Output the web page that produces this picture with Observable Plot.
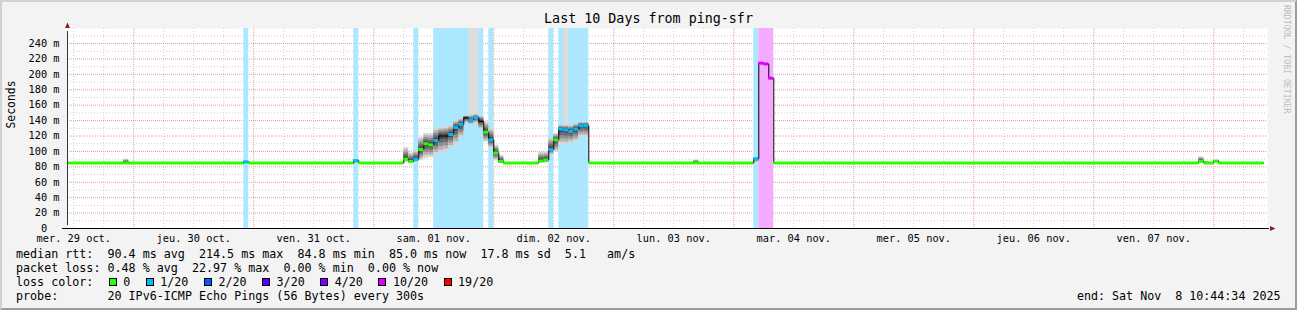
<!DOCTYPE html>
<html><head><meta charset="utf-8">
<script src="https://cdn.jsdelivr.net/npm/d3@7"></script>
<script src="https://cdn.jsdelivr.net/npm/@observablehq/plot@0.6"></script>
<style>
html,body{margin:0;padding:0;background:#f3f3f3;}
#wrap{position:relative;width:1297px;height:310px;background:#f3f3f3;overflow:hidden;font-family:"DejaVu Sans Mono",monospace;color:#000;}
#edge{position:absolute;left:0;top:0;width:1297px;height:310px;box-sizing:border-box;border-top:2px solid #d2d2d2;border-left:2px solid #d2d2d2;border-right:2px solid #9c9c9c;border-bottom:2px solid #9c9c9c;pointer-events:none;}
#title{position:absolute;left:0;top:11px;width:1297px;text-align:center;font-size:13.35px;line-height:16px;white-space:pre;}
#plot{position:absolute;left:0;top:0;}
#legend{position:absolute;left:16px;top:247.3px;font-size:11.7px;line-height:14px;white-space:pre;}
.row{height:14px;}
.box{display:inline-block;width:8px;height:8px;box-sizing:border-box;border:1px solid #000;vertical-align:baseline;}
#end{position:absolute;right:16.5px;top:289.3px;font-size:11.66px;line-height:14px;white-space:pre;}
#wm{position:absolute;left:1282px;top:5px;writing-mode:vertical-rl;font-size:8.2px;line-height:9px;color:#bdbdbd;white-space:pre;}
</style></head>
<body>
<div id="wrap">
  <div id="plot"></div>
  <div id="title"></div>
  <div id="legend"></div>
  <div id="end"></div>
  <div id="wm">RRDTOOL / TOBI OETIKER</div>
  <div id="edge"></div>
</div>
<script>
// ---------------- data ----------------
const titleText = "Last 10 Days from ping-sfr";
const rangeStart = "2025-10-29T10:44:34Z";
const rangeEnd = "2025-11-08T10:44:34Z";

const dayTicks = ["10-29 12","10-30 12","10-31 12","11-01 12","11-02 12","11-03 12","11-04 12","11-05 12","11-06 12","11-07 12"];
const dayLabels = ["mer. 29 oct.","jeu. 30 oct.","ven. 31 oct.","sam. 01 nov.","dim. 02 nov.","lun. 03 nov.","mar. 04 nov.","mer. 05 nov.","jeu. 06 nov.","ven. 07 nov."];
const yTicks = [0,20,40,60,80,100,120,140,160,180,200,220,240];

// hourly steps (value holds until next step time), median rtt in ms
const stepTime = ["10-29 10","10-29 22","10-29 23","10-30 22","10-30 23","10-31 20","10-31 21",
  "11-01 06","11-01 07","11-01 08","11-01 09","11-01 10","11-01 11","11-01 12","11-01 13","11-01 14","11-01 15","11-01 16","11-01 17","11-01 18","11-01 19","11-01 20","11-01 21","11-01 22","11-01 23","11-02 00","11-02 01","11-02 02",
  "11-02 09","11-02 10","11-02 11","11-02 12","11-02 13","11-02 14","11-02 15","11-02 16","11-02 17","11-02 18","11-02 19",
  "11-03 16","11-03 17",
  "11-04 04","11-04 05","11-04 06","11-04 07","11-04 08",
  "11-07 21","11-07 22","11-07 23","11-08 00","11-08 01"];
const stepEnd = "11-08 10";
const median = [85,85,85,86.5,85,88,85,
  90,87,90,102.5,110,108.5,114,120,120,122,131,135,143.5,141,144,139,125,115,98,87,85,
  87.5,89,102.5,115,129,128,126,129,133.5,133.5,85,
  85,85,
  90.5,214.5,213.5,195,85,
  87,85,85,87.5,85];
// lost pings out of 20 (null = not coloured)
const loss = [0,0,0,1,0,1,0,
  0,0,1,0,0,0,1,null,null,1,1,1,null,1,1,null,0,1,0,0,0,
  0,0,1,0,1,1,1,1,1,1,0,
  0,0,
  1,10,10,10,0,
  0,0,0,0,0];
const smokeLo = [85,85,85,83,85,84,85,
  86,85,86,88,91,92,95,97,99,104,108,117,136,134,136,128,112,104,88,84,85,
  85,85,95,99,108,108,110,112,118,118,85,
  85,85,
  85,214.5,213.5,195,85,
  85,85,85,85,85];
const smokeHi = [85,90,85,87,85,89,85,
  105,98,101,118,123,123,130,131,132,134,140,143,146,147,148,146,138,130,108,95,85,
  99,99,118,123,134,134,134,136,138,138,85,
  89,85,
  91,214.5,213.5,195,85,
  93,87,85,88,85];
const outlierTime = ["11-01 19","11-01 20","11-02 14"];
const outlierMax = [300,300,300];

// loss background bands
const bandStart = ["10-30 22","10-31 20","11-01 08","11-01 12","11-01 23","11-02 11","11-02 13","11-04 04","11-04 05"];
const bandEnd   = ["10-30 23","10-31 21","11-01 09","11-01 22","11-02 00","11-02 12","11-02 19","11-04 05","11-04 08"];
const bandLoss  = [1,1,1,1,1,1,1,1,10];

const lossLevels = [0,1,2,3,4,10,19];
const lossLabels = ["0","1/20","2/20","3/20","4/20","10/20","19/20"];
const lossColors = ["#26ff00","#00b8ff","#0059ff","#5e00ff","#7e00ff","#dd00ff","#ff0000"];

const rttStats = [["90.4","avg"],["214.5","max"],["84.8","min"],["85.0","now"],["17.8","sd"]];
const rttAm = "5.1";
const lossStats = [["0.48","avg"],["22.97","max"],["0.00","min"],["0.00","now"]];
const probeText = "20 IPv6-ICMP Echo Pings (56 Bytes) every 300s";
const endText = "end: Sat Nov  8 10:44:34 2025";

// ---------------- build ----------------
const parseT = d3.utcParse("%Y-%m-%d %H");
const T = s => parseT("2025-" + s);
const start = new Date(rangeStart), end = new Date(rangeEnd);
const colorOf = l => lossColors[lossLevels.indexOf(l)];

const steps = stepTime.map((s, i) => ({
  t0: T(s), t1: T(i + 1 < stepTime.length ? stepTime[i + 1] : stepEnd),
  m: median[i], loss: loss[i], lo: smokeLo[i], hi: smokeHi[i]
}));
const linePts = steps.map(s => ({t: s.t0, m: s.m})).concat([{t: T(stepEnd), m: median[median.length - 1]}]);
const segs = steps.filter(s => s.loss != null).map(s => ({...s, color: colorOf(s.loss)}));

const bands = bandStart.map((s, i) => ({
  t0: T(s), t1: T(bandEnd[i]),
  color: d3.interpolateRgb("#ffffff", colorOf(bandLoss[i]))(0.33)
}));

const outliers = outlierTime.map((s, i) => {
  const st = steps.find(d => +d.t0 === +T(s));
  return {t0: st.t0, t1: st.t1, y1: st.hi, y2: outlierMax[i]};
});

const smokeShade = ["#d6d6d6","#b3b3b3","#8e8e8e","#6a6a6a","#474747"];
const smokeSpan = [1, 0.8, 0.6, 0.4, 0.2];
const smoke = [];
steps.forEach(s => {
  if (s.hi === s.lo) return;
  smokeShade.forEach((fill, k) => {
    const f = smokeSpan[k];
    smoke.push({t0: s.t0, t1: s.t1, y1: s.m - f * (s.m - s.lo), y2: s.m + f * (s.hi - s.m), fill});
  });
});

const midnights = d3.utcDay.range(d3.utcDay.ceil(start), end);
const sixHours = d3.utcHour.every(6).range(start, end).filter(d => d.getUTCHours() !== 0);
const yMinor = d3.range(10, 260, 20);
const yMajor = d3.range(20, 260, 20);
const dayTickDates = dayTicks.map(T);
const labelMap = new Map(dayTickDates.map((d, i) => [+d, dayLabels[i]]));

const arrowRight = {draw(ctx, size) { const s = Math.sqrt(size) / 2; ctx.moveTo(s * 1.2, 0); ctx.lineTo(-s, -s); ctx.lineTo(-s, s); ctx.closePath(); }};
const arrowUp = {draw(ctx, size) { const s = Math.sqrt(size) / 2; ctx.moveTo(0, -s * 1.2); ctx.lineTo(-s, s); ctx.lineTo(s, s); ctx.closePath(); }};
const arrowColor = "#8f1b1b";
const redGrid = "#f19a9a", grayGrid = "#cdcdcd";

const chart = Plot.plot({
  width: 1297, height: 250,
  marginLeft: 67, marginRight: 30, marginTop: 28, marginBottom: 22,
  x: {type: "utc", domain: [start, end]},
  y: {domain: [0, 259.5]},
  color: {type: "identity"},
  style: {background: "none", fontFamily: '"DejaVu Sans Mono", monospace', fontSize: "10.3px", overflow: "visible", color: "#000"},
  marks: [
    Plot.frame({fill: "white", stroke: null}),
    Plot.ruleX(sixHours, {stroke: grayGrid, strokeDasharray: "1,2"}),
    Plot.ruleY(yMinor, {stroke: grayGrid, strokeDasharray: "1,2"}),
    Plot.ruleX(midnights, {stroke: redGrid, strokeDasharray: "1,1"}),
    Plot.ruleY(yMajor, {stroke: redGrid, strokeDasharray: "1,1"}),
    Plot.rect(bands, {x1: "t0", x2: "t1", fill: "color"}),
    Plot.rect(outliers, {x1: "t0", x2: "t1", y1: "y1", y2: "y2", fill: "#dddddd", clip: true}),
    Plot.rect(smoke, {x1: "t0", x2: "t1", y1: "y1", y2: "y2", fill: "fill", clip: true}),
    Plot.line(linePts, {x: "t", y: "m", curve: "step-after", stroke: "#000", strokeWidth: 1, clip: true}),
    Plot.ruleY(segs, {x1: "t0", x2: "t1", y: "m", stroke: "color", strokeWidth: 3, clip: true}),
    Plot.ruleY([0], {stroke: "#000", insetLeft: -5, insetRight: -2}),
    Plot.ruleX([start], {y1: 0, y2: 259.5, stroke: "#333", insetTop: -3, insetBottom: -3}),
    Plot.dot([end], {x: d => d, y: 0, symbol: arrowRight, r: 2.8, fill: arrowColor, stroke: null, dx: 5}),
    Plot.dot([start], {x: d => d, y: 259.5, symbol: arrowUp, r: 2.8, fill: arrowColor, stroke: null, dy: -3}),
    Plot.axisX({ticks: dayTickDates, tickFormat: d => labelMap.get(+d), tickSize: 0, tickPadding: 6, label: null, anchor: "bottom"}),
    Plot.axisY({ticks: yTicks, tickFormat: d => d === 0 ? "0\u00a0\u00a0" : `${d} m`, tickSize: 0, tickPadding: 8, label: null, anchor: "left"}),
    Plot.text(["Seconds"], {text: d => d, frameAnchor: "left", rotate: -90, dx: -55.7, fontSize: 11.4})
  ]
});
document.getElementById("plot").appendChild(chart);

document.getElementById("title").textContent = titleText;

const legend = document.getElementById("legend");
const addRow = txt => { const r = document.createElement("div"); r.className = "row"; r.textContent = txt; legend.appendChild(r); return r; };
addRow("median rtt:  " + rttStats.map(([v, l]) => `${v} ms ${l}`).join("  ") + `  ${rttAm}   am/s`);
addRow("packet loss: " + lossStats.map(([v, l]) => `${v} % ${l}`).join("  "));
const lr = addRow("loss color:");
lossLabels.forEach((lab, i) => {
  const b = document.createElement("span");
  b.className = "box"; b.style.background = lossColors[i];
  b.style.marginLeft = i === 0 ? "15.3px" : "15.5px"; b.style.marginRight = "6.5px";
  lr.appendChild(b);
  const t = document.createElement("span"); t.textContent = lab; lr.appendChild(t);
});
addRow("probe:       " + probeText);
document.getElementById("end").textContent = endText;
</script>
</body></html>
